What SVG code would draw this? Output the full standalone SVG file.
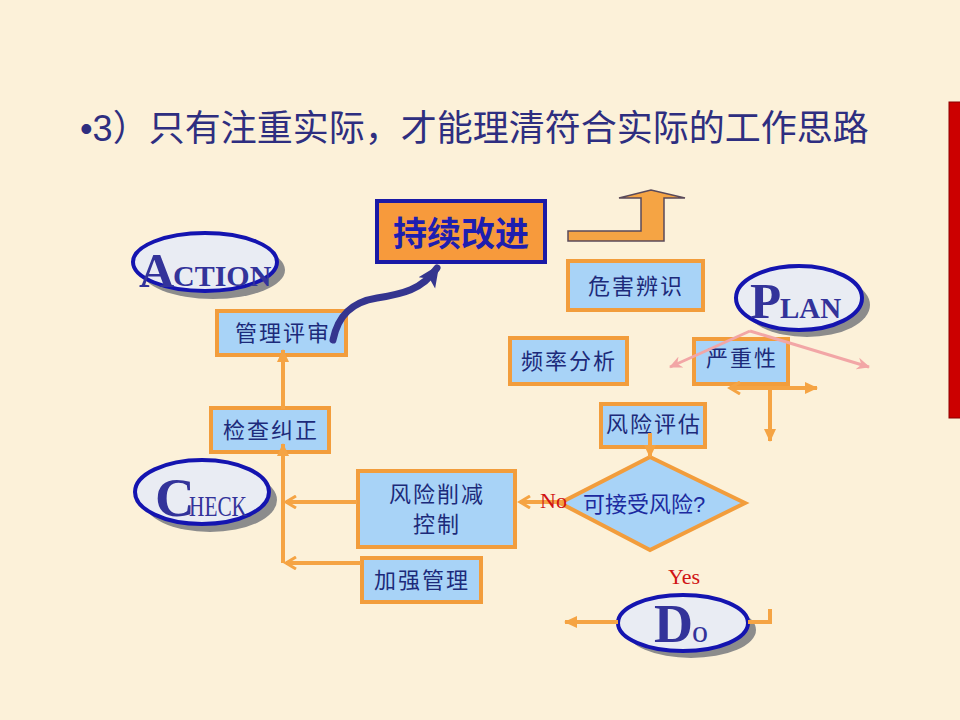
<svg xmlns="http://www.w3.org/2000/svg" width="960" height="720" viewBox="0 0 960 720">
<defs>
<style>
.box{fill:#a8d3f7;stroke:#f29d3c;stroke-width:4}
.bt{font-family:"Noto Sans CJK SC",sans-serif;font-size:22px;fill:#1c2a7a;text-anchor:middle;letter-spacing:2px}
.con{fill:none;stroke:#f5a444;stroke-width:4}
.pink{fill:none;stroke:#f2a6a6;stroke-width:3}
.ell{fill:#e9ecf3;stroke:#1414b0;stroke-width:4}
.sh{fill:#8c8c8c}
.big{font-family:"Liberation Serif",serif;font-weight:bold;fill:#33339a}
.lab{font-family:"Liberation Serif",serif;font-size:22px;fill:#d01414}
</style>
<marker id="chev" markerUnits="userSpaceOnUse" markerWidth="14" markerHeight="14" refX="11" refY="7" orient="auto" viewBox="0 0 14 14">
<path d="M1,1 L11,7 L1,13" fill="none" stroke="#f5a444" stroke-width="3"/>
</marker>
<marker id="tri" markerUnits="userSpaceOnUse" markerWidth="14" markerHeight="14" refX="12" refY="7" orient="auto" viewBox="0 0 14 14">
<path d="M0,1 L13,7 L0,13 z" fill="#f5a444"/>
</marker>
<marker id="ptri" markerUnits="userSpaceOnUse" markerWidth="14" markerHeight="14" refX="12" refY="7" orient="auto" viewBox="0 0 14 14">
<path d="M0,1 L13,7 L0,13 L4,7 z" fill="#f2a6a6"/>
</marker>
<marker id="btri" markerUnits="userSpaceOnUse" markerWidth="24" markerHeight="24" refX="18" refY="12" orient="auto" viewBox="0 0 24 24">
<path d="M0,2 L22,12 L0,22 L5,12 z" fill="#35358f"/>
</marker>
</defs>
<rect x="0" y="0" width="960" height="720" fill="#fcf1d9"/>
<rect x="949" y="102" width="12" height="316" fill="#cc0000" stroke="#8a0000" stroke-width="1"/>
<text x="80" y="141" font-family="Liberation Sans,'Noto Sans CJK SC',sans-serif" font-size="36" fill="#2e2e80">•3）只有注重实际，才能理清符合实际的工作思路</text>

<g id="improve">
<rect x="377" y="201" width="168" height="61" fill="#f79a3c" stroke="#1a1aa6" stroke-width="4"/>
<text x="461" y="246" font-family="'Noto Sans CJK SC',sans-serif" font-size="34" font-weight="bold" fill="#1e1eb0" text-anchor="middle">持续改进</text>
</g>

<g id="action">
<ellipse class="sh" cx="213" cy="270" rx="72" ry="29"/>
<ellipse class="ell" cx="205" cy="262" rx="72" ry="29"/>
<text class="big" x="139" y="287" font-size="49">A</text>
<text class="big" x="173" y="286" font-size="30">CTION</text>
</g>

<g id="plan">
<ellipse class="sh" cx="807" cy="305" rx="63" ry="32"/>
<ellipse class="ell" cx="799" cy="298" rx="63" ry="32"/>
<text class="big" x="750" y="318" font-size="51">P</text>
<text class="big" x="780" y="318" font-size="29">LAN</text>
</g>

<g id="check">
<ellipse class="sh" cx="210" cy="500" rx="67" ry="32"/>
<ellipse class="ell" cx="202" cy="492" rx="67" ry="32"/>
<text class="big" x="155" y="516" font-size="55">C</text>
<text x="189" y="516" font-family="'Liberation Serif',serif" font-size="29" fill="#33339a" textLength="58" lengthAdjust="spacingAndGlyphs">HECK</text>
</g>

<g id="do">
<ellipse class="sh" cx="691" cy="630" rx="65" ry="28"/>
<ellipse class="ell" cx="683" cy="623" rx="65" ry="28"/>
<text class="big" x="654" y="642" font-size="54">D</text>
<text x="692" y="642" font-family="'Liberation Serif',serif" font-size="32" fill="#33339a">o</text>
</g>

<g id="review">
<rect class="box" x="217" y="311" width="129" height="44"/>
<text class="bt" x="283" y="341">管理评审</text>
</g>
<g id="inspect">
<rect class="box" x="211" y="408" width="118" height="44"/>
<text class="bt" x="271" y="438">检查纠正</text>
</g>
<g id="reduce">
<rect class="box" x="358" y="471" width="157" height="76"/>
<text class="bt" x="437" y="502">风险削减</text>
<text class="bt" x="437" y="532">控制</text>
</g>
<g id="strengthen">
<rect class="box" x="362" y="558" width="119" height="44"/>
<text class="bt" x="422" y="588">加强管理</text>
</g>
<g id="hazard">
<rect class="box" x="568" y="261" width="135" height="49"/>
<text class="bt" x="636" y="294" font-size="24">危害辨识</text>
</g>
<g id="frequency">
<rect class="box" x="510" y="338" width="117" height="46"/>
<text class="bt" x="569" y="369" font-size="23">频率分析</text>
</g>
<g id="severity">
<rect class="box" x="694" y="339" width="94" height="45"/>
<text class="bt" x="742" y="366">严重性</text>
</g>
<g id="assess">
<rect class="box" x="601" y="404" width="104" height="43"/>
<text class="bt" x="654" y="432" font-size="20" letter-spacing="1">风险评估</text>
</g>
<g id="decision">
<polygon points="650,457 745,503 650,550 560,503" fill="#a8d3f7" stroke="#f29d3c" stroke-width="4"/>
<text x="644" y="512" font-family="Liberation Sans,'Noto Sans CJK SC',sans-serif" font-size="22" fill="#1c2aa0" text-anchor="middle">可接受风险?</text>
</g>

<g id="connectors">
<path class="con" d="M283,452 L283,563"/>
<path class="con" d="M283,409 L283,350" marker-end="url(#tri)"/>
<path class="con" d="M283,462 L283,444" marker-end="url(#tri)"/>
<path class="con" d="M357,502 L286,502" marker-end="url(#chev)"/>
<path class="con" d="M361,563 L286,563" marker-end="url(#chev)"/>
<path class="con" d="M562,502 L520,502" marker-end="url(#chev)"/>
<path class="con" d="M650,433 L650,457" marker-end="url(#tri)"/>
<path class="con" d="M740,388 L817,388" marker-end="url(#tri)"/>
<path class="con" d="M745,388 L730,388" marker-end="url(#chev)"/>
<path class="con" d="M770,388 L770,441" marker-end="url(#tri)"/>
<path class="con" d="M618,622 L565,622" marker-end="url(#tri)"/>
<path class="con" d="M748,622 L770,622 L770,609"/>
<path class="pink" d="M750,331 L670,367" marker-end="url(#ptri)"/>
<path class="pink" d="M750,331 L869,367" marker-end="url(#ptri)"/>
<path d="M333,340 C338,315 352,302 377,298 C402,294 422,290 437,268" fill="none" stroke="#35358f" stroke-width="7" stroke-linecap="round" marker-end="url(#btri)"/>
<path d="M568,231 L641,231 L641,198 L619,198 L651,190 L685,198 L664,198 L664,241 L568,241 Z" fill="#f5a444" stroke="#5a4a5a" stroke-width="1.5"/>
</g>

<text class="lab" x="540" y="508">No</text>
<text class="lab" x="668" y="584">Yes</text>
</svg>
